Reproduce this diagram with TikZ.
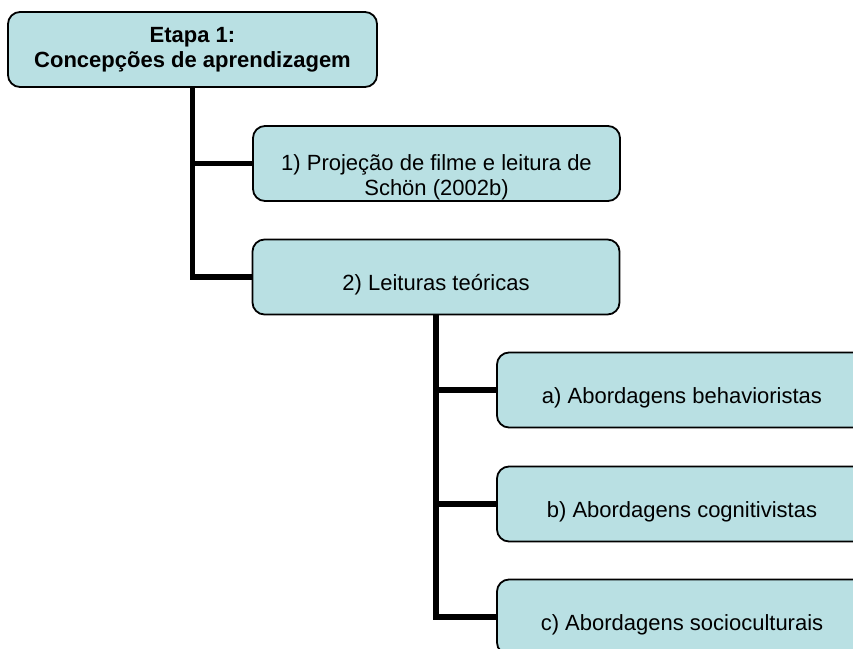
\documentclass[tikz,border=0pt]{standalone}
\usepackage{fontspec}
\setmainfont{Liberation Sans}
\usepackage{tikz}
\usetikzlibrary{positioning}
\definecolor{boxblue}{RGB}{185, 224, 227}

\begin{document}
\begin{tikzpicture}[x=0.5pt, y=-0.5pt,
    block/.style={rectangle, rounded corners=6pt, minimum width=183.5pt, minimum height=37.5pt, text centered, align=center, draw=black, line width=0.9pt, fill=boxblue, font=\fontsize{11}{12.5}\selectfont},
    oneline/.style={text height=16pt, text depth=2.5pt},
    link/.style={line width=2.6pt}
]
\useasboundingbox (0,0) rectangle (853,649);
\clip (0,0) rectangle (853,649);

% Stage
\node[block, minimum width=184.5pt] (etapa) at (192.5,49.5) {\textbf{Etapa 1:}\\\textbf{Concepções de aprendizagem}};

% First level
\node[block, text height=34pt, text depth=2.5pt, inner ysep=0pt] (proj) at (436.5,163.5) {1) Projeção de filme e leitura de\\Schön (2002b)};
\node[block, oneline] (leit) at (436,277) {2) Leituras teóricas};

% Second level
\node[block, oneline, minimum width=185pt] (behav) at (682,390) {a) Abordagens behavioristas};
\node[block, oneline, minimum width=185pt] (cogn) at (682,504) {b) Abordagens cognitivistas};
\node[block, oneline, minimum width=185pt] (socio) at (682,617) {c) Abordagens socioculturais};

% Links
\draw[link] (etapa.south) |- (proj.west);
\draw[link] (etapa.south) |- (leit.west);
\draw[link] (leit.south) |- (behav.west);
\draw[link] (leit.south) |- (cogn.west);
\draw[link] (leit.south) |- (socio.west);
\end{tikzpicture}
\end{document}
